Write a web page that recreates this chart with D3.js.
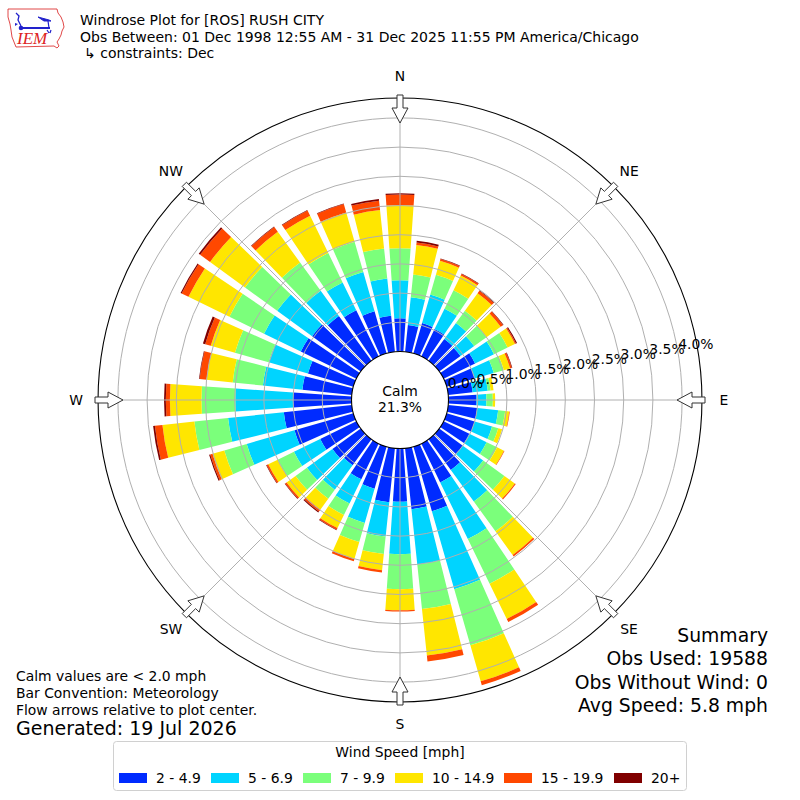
<!DOCTYPE html>
<html><head><meta charset="utf-8">
<script src="https://cdn.jsdelivr.net/npm/d3@7"></script>
<style>body{margin:0;background:#fff} svg{display:block;font-family:"DejaVu Sans",sans-serif}</style>
</head><body><svg id="c" width="800" height="800"></svg>
<script>
// ---------- data ----------
const directions = [0,10,20,30,40,50,60,70,80,90,100,110,120,130,140,150,160,170,180,190,200,210,220,230,240,250,260,270,280,290,300,310,320,330,340,350];
const speedBins = ["2 - 4.9","5 - 6.9","7 - 9.9","10 - 14.9","15 - 19.9","20+"];
const binColors = ["rgb(0,43,255)","rgb(0,212,255)","rgb(123,255,123)","rgb(255,230,0)","rgb(255,72,0)","rgb(128,0,0)"];
const speed2to5  = [0.57,0.46,0.54,0.52,0.46,0.45,0.60,0.50,0.42,0.48,0.50,0.50,0.49,0.50,0.65,0.74,1.15,1.05,0.91,0.93,0.75,0.68,0.55,0.60,0.69,1.05,1.17,1.00,0.85,0.81,1.06,1.03,0.95,0.88,0.75,0.62];
const speed5to7  = [0.65,0.48,0.51,0.39,0.34,0.29,0.36,0.34,0.26,0.17,0.36,0.31,0.33,0.43,0.67,1.08,1.39,0.95,0.90,0.59,0.61,0.46,0.52,0.54,0.50,0.85,0.96,0.99,0.68,0.70,0.70,0.74,0.53,0.53,0.70,0.64];
const speed7to10 = [0.55,0.39,0.35,0.35,0.26,0.26,0.26,0.18,0.05,0.11,0.12,0.11,0.20,0.45,0.63,0.85,1.00,0.77,0.60,0.30,0.34,0.22,0.19,0.24,0.31,0.40,0.58,0.58,0.52,0.60,0.66,0.68,0.60,0.56,0.54,0.52];
const speed10to15= [0.74,0.51,0.25,0.28,0.37,0.30,0.14,0.11,0.05,0.04,0.07,0.07,0.13,0.22,0.50,0.67,0.64,0.80,0.36,0.28,0.30,0.25,0.23,0.19,0.18,0.21,0.55,0.54,0.45,0.43,0.78,0.74,0.65,0.71,0.52,0.66];
const speed15to20= [0.18,0.04,0.03,0.03,0.05,0.05,0.02,0.03,0.00,0.00,0.01,0.00,0.01,0.02,0.03,0.06,0.07,0.10,0.02,0.04,0.04,0.03,0.04,0.03,0.03,0.04,0.13,0.07,0.12,0.10,0.13,0.21,0.10,0.10,0.15,0.16];
const speed20up  = [0.02,0.03,0.01,0.01,0.01,0.01,0.02,0.01,0.00,0.00,0.00,0.00,0.00,0.00,0.00,0.00,0.00,0.00,0.00,0.00,0.00,0.01,0.02,0.01,0.01,0.02,0.03,0.03,0.01,0.04,0.02,0.03,0.01,0.01,0.01,0.03];
const radialTicks = [0,0.5,1,1.5,2,2.5,3,3.5,4];
const compassNames = ["N","NE","E","SE","S","SW","W","NW"];
const compassAngles = [0,45,90,135,180,225,270,315];
const calmPct = 21.3;
const titleLines = ["Windrose Plot for [ROS] RUSH CITY","Obs Between: 01 Dec 1998 12:55 AM - 31 Dec 2025 11:55 PM America/Chicago","\u21b3 constraints: Dec"];
const summaryLines = ["Summary","Obs Used: 19588","Obs Without Wind: 0","Avg Speed: 5.8 mph"];
const noteLines = ["Calm values are < 2.0 mph","Bar Convention: Meteorology","Flow arrows relative to plot center."];
const generatedText = "Generated: 19 Jul 2026";

// ---------- setup ----------
const svg = d3.select("#c");
svg.append("rect").attr("width",800).attr("height",800).attr("fill","#fff");
const cx = 400, cy = 400;
const r = d3.scaleLinear().domain([0,4]).range([48.5,282.1]);
const rOuter = r(4.34);
const rad = d => d*Math.PI/180;
const g = svg.append("g").attr("transform",`translate(${cx},${cy})`);
const FS = 13.9;

// stack
const series = [speed2to5,speed5to7,speed7to10,speed10to15,speed15to20,speed20up];
const table = directions.map((d,i)=>{const o={dir:d}; speedBins.forEach((b,j)=>o[b]=series[j][i]); return o;});
const stacked = d3.stack().keys(speedBins)(table);
const halfW = 4; // degrees
const arc = d3.arc();
stacked.forEach((layer,j)=>{
  g.append("g").selectAll("path").data(layer).join("path")
    .attr("d",p=>{ if(p[1]-p[0]<=0) return null; return arc({innerRadius:r(p[0]),outerRadius:r(p[1]),startAngle:rad(p.data.dir-halfW),endAngle:rad(p.data.dir+halfW)});})
    .attr("fill",binColors[j]);
});

// grid
const grid = g.append("g").attr("stroke","#b0b0b0").attr("fill","none").attr("stroke-width",1);
grid.selectAll("circle").data(radialTicks.slice(1)).join("circle").attr("r",d=>r(d));
grid.selectAll("line").data(compassAngles).join("line")
  .attr("x1",a=>r(0)*Math.sin(rad(a))).attr("y1",a=>-r(0)*Math.cos(rad(a)))
  .attr("x2",a=>rOuter*Math.sin(rad(a))).attr("y2",a=>-rOuter*Math.cos(rad(a)));
g.append("circle").attr("r",rOuter).attr("fill","none").attr("stroke","#000").attr("stroke-width",1.1);

// calm
g.append("circle").attr("r",r(0)).attr("fill","#fff").attr("stroke","#000").attr("stroke-width",1.1);
g.append("text").attr("x",0).attr("y",-4).attr("text-anchor","middle").attr("font-size",FS).text("Calm");
g.append("text").attr("x",0).attr("y",12).attr("text-anchor","middle").attr("font-size",FS).text(calmPct.toFixed(1)+"%");

// radial tick labels
const la = rad(9.6);
g.append("g").selectAll("text").data(radialTicks).join("text")
  .attr("x",t=>r(t)*Math.cos(la)).attr("y",t=>-r(t)*Math.sin(la)-3.5)
  .attr("font-size",FS).attr("fill","#000").text(t=>t.toFixed(1)+"%");

// arrows
const arrowShape = [[305,-3],[305,3],[292,3],[292,8],[277,0],[292,-8],[292,-3]];
g.append("g").selectAll("path").data(compassAngles).join("path")
  .attr("d",a=>{const s=Math.sin(rad(a)),c=Math.cos(rad(a));
     return "M"+arrowShape.map(([rr,w])=>[rr*s+w*c, -rr*c+w*s].map(v=>v.toFixed(2)).join(",")).join("L")+"Z";})
  .attr("fill","#fff").attr("stroke","#333").attr("stroke-width",1);

// compass labels
g.append("g").selectAll("text").data(compassAngles).join("text")
  .attr("x",a=>324*Math.sin(rad(a))).attr("y",a=>-324*Math.cos(rad(a))+5)
  .attr("text-anchor","middle").attr("font-size",FS).text((a,i)=>compassNames[i]);

// titles
svg.append("g").selectAll("text").data(titleLines).join("text")
  .attr("x",(d,i)=>i==2?84:80).attr("y",(d,i)=>25+i*16.7).attr("font-size",14).text(d=>d);

// summary
svg.append("g").selectAll("text").data(summaryLines).join("text")
  .attr("x",768).attr("y",(d,i)=>642+i*23.3).attr("text-anchor","end").attr("font-size",18.8).text(d=>d);
// notes
svg.append("g").selectAll("text").data(noteLines).join("text")
  .attr("x",16).attr("y",(d,i)=>681+i*17).attr("font-size",FS).text(d=>d);
svg.append("text").attr("x",16).attr("y",735).attr("font-size",19).text(generatedText);

// legend
const lg = svg.append("g");
lg.append("rect").attr("x",113.5).attr("y",741.5).attr("width",573).attr("height",49).attr("rx",3)
  .attr("fill","#fff").attr("stroke","#d0d0d0");
lg.append("text").attr("x",400).attr("y",757).attr("text-anchor","middle").attr("font-size",FS).text("Wind Speed [mph]");
const legX = [119,211,303,395,504,614];
speedBins.forEach((b,i)=>{
  lg.append("rect").attr("x",legX[i]).attr("y",773).attr("width",28).attr("height",10).attr("fill",binColors[i]);
  lg.append("text").attr("x",legX[i]+37).attr("y",783).attr("font-size",FS).text(b);
});

// logo
const logo = svg.append("g");
logo.append("path").attr("d","M8,9 L57,9 L58,13 L61,17 L63,22 L64,27 L62,31 L61,35 L59,39 L57,42 L59,46 L57,48 L54,46 L16,47 L14,42 L12,37 L11,30 L10,24 L8,17 Z")
  .attr("fill","none").attr("stroke","#d33").attr("stroke-width",0.9);
logo.append("line").attr("x1",21).attr("y1",28).attr("x2",50).attr("y2",28).attr("stroke","#22c").attr("stroke-width",2);
logo.append("circle").attr("cx",21).attr("cy",28).attr("r",2.3).attr("fill","#22c");
logo.append("path").attr("d","M16,13 L19,16 L18,20 L21,26").attr("fill","none").attr("stroke","#22c").attr("stroke-width",1.3);
logo.append("path").attr("d","M15,23 L18,24 L15,26 Z").attr("fill","#22c");
logo.append("path").attr("d","M38,17 L49,20 L51,21 L44,21 Z").attr("fill","#22c").attr("stroke","#22c").attr("stroke-width",1);
logo.append("path").attr("d","M48,21 L49,28 M47,30 L49,33 M51,30 L50,33").attr("stroke","#22c").attr("stroke-width",1.2).attr("fill","none");
logo.append("text").attr("x",17).attr("y",44).attr("font-family","'Liberation Serif',serif").attr("font-style","italic").attr("font-size",17).attr("fill","#d22").text("IEM");
</script></body></html>
